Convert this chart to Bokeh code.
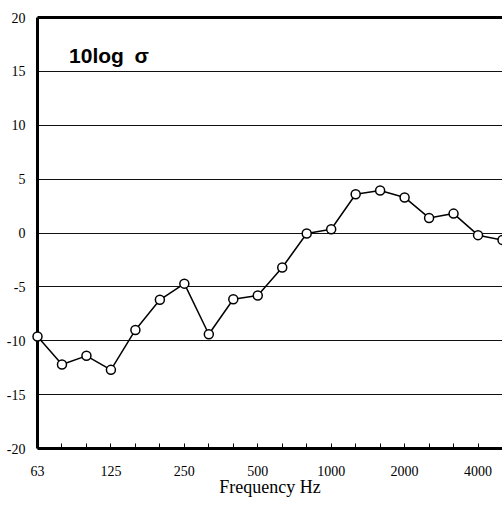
from bokeh.plotting import figure
from bokeh.models import Range1d, FixedTicker, LinearAxis, Label, ColumnDataSource
from bokeh.embed import file_html
from bokeh.resources import INLINE

# Third-octave band centre frequencies (Hz)
freqs = ["63", "80", "100", "125", "160", "200", "250", "315", "400", "500",
         "630", "800", "1000", "1250", "1600", "2000", "2500", "3150", "4000", "5000"]
# 10 log sigma (dB)
values = [-9.6, -12.2, -11.4, -12.7, -9.0, -6.2, -4.7, -9.4, -6.15, -5.8,
          -3.2, -0.05, 0.35, 3.6, 3.95, 3.3, 1.4, 1.8, -0.2, -0.65]
x_tick_labels = ["63", "125", "250", "500", "1000", "2000", "4000"]
y_ticks = [-20, -15, -10, -5, 0, 5, 10, 15, 20]
y_tick_labels = ["-20", "-15", "-10", "-5", "0", "5", "10", "15", "20"]

idx = list(range(len(freqs)))
src = ColumnDataSource(data=dict(x=idx, y=values, f=freqs))

p = figure(width=502, height=508, output_backend="svg", toolbar_location=None,
           x_range=Range1d(0, len(freqs) - 1), y_range=Range1d(-20, 20),
           min_border_left=37, min_border_right=0, min_border_top=17, min_border_bottom=60,
           background_fill_color="white", border_fill_color="white")
p.outline_line_color = None

# x axis
xa = p.xaxis[0]
xa.ticker = FixedTicker(ticks=idx)
xa.major_label_overrides = {i: (freqs[i] if freqs[i] in x_tick_labels else "") for i in idx}
xa.major_tick_in = 5
xa.major_tick_out = 0
xa.major_tick_line_color = "black"
xa.major_tick_line_width = 1
xa.minor_tick_line_color = None
xa.axis_line_color = "black"
xa.axis_line_width = 3
xa.major_label_text_font = "Liberation Serif"
xa.major_label_text_font_size = "14px"
xa.major_label_text_color = "black"
xa.major_label_standoff = 17
xa.axis_label = "Frequency Hz"
xa.axis_label_text_font = "Liberation Serif"
xa.axis_label_text_font_size = "18px"
xa.axis_label_text_font_style = "normal"
xa.axis_label_text_color = "black"
xa.axis_label_standoff = -2

# y axis
ya = p.yaxis[0]
ya.ticker = FixedTicker(ticks=y_ticks)
ya.major_label_overrides = {t: l for t, l in zip(y_ticks, y_tick_labels)}
ya.major_tick_in = 0
ya.major_tick_out = 0
ya.minor_tick_line_color = None
ya.axis_line_color = "black"
ya.axis_line_width = 3
ya.major_label_text_font = "Liberation Serif"
ya.major_label_text_font_size = "14px"
ya.major_label_text_color = "black"
ya.major_label_standoff = 12

# top border as an axis without ticks
top = LinearAxis(ticker=FixedTicker(ticks=[]), axis_line_width=3, axis_line_color="black",
                 major_tick_in=0, major_tick_out=0, minor_tick_line_color=None,
                 major_label_text_font_size="0px")
p.add_layout(top, "above")

p.xgrid.grid_line_color = None
p.ygrid.ticker = FixedTicker(ticks=[-15, -10, -5, 0, 5, 10, 15])
p.ygrid.grid_line_color = "#111111"
p.ygrid.grid_line_width = 1

p.line("x", "y", source=src, line_color="black", line_width=1.5, level="overlay")
p.scatter("x", "y", source=src, size=9, marker="circle", fill_color="white",
          line_color="black", line_width=1.5, level="overlay")

p.add_layout(Label(x=1.29, y=16.5, text="10log\u2002σ", text_font="Liberation Sans",
                   text_font_style="bold", text_font_size="21px", text_color="black",
                   text_baseline="alphabetic"))

open("out.html", "w").write(file_html(p, INLINE))
